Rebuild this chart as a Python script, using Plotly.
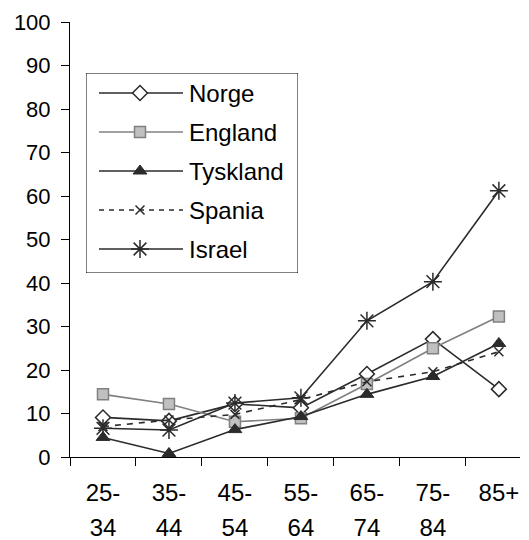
import plotly.graph_objects as go

# Age groups (two-line tick labels)
age_groups = ["25-34", "35-44", "45-54", "55-64", "65-74", "75-84", "85+"]
label_top = ["25-", "35-", "45-", "55-", "65-", "75-", "85+"]
label_bottom = ["34", "44", "54", "64", "74", "84", ""]

# Values per country
countries = ["Norge", "England", "Tyskland", "Spania", "Israel"]
norge = [9.1, 8.3, 12.2, 11.3, 19.1, 27.1, 15.6]
england = [14.4, 12.2, 8.1, 8.9, 16.8, 25.0, 32.3]
tyskland = [4.5, 0.8, 6.3, 9.3, 14.4, 18.5, 26.1]
spania = [7.0, 8.5, 9.8, 13.2, 17.3, 19.6, 24.2]
israel = [6.6, 6.2, 12.4, 13.6, 31.3, 40.3, 61.2]
series = [norge, england, tyskland, spania, israel]

y_ticks = [0, 10, 20, 30, 40, 50, 60, 70, 80, 90, 100]

FONT = "Liberation Sans, Arial, sans-serif"
DARK = "#2b2b2b"
GRAY = "#808080"

styles = [
    dict(line=dict(color=DARK, width=1.6),
         marker=dict(symbol="diamond", size=11.5, color="white",
                     line=dict(color=DARK, width=1.5))),
    dict(line=dict(color=GRAY, width=1.6),
         marker=dict(symbol="square", size=11, color="#c0c0c0",
                     line=dict(color=GRAY, width=1.5))),
    dict(line=dict(color=DARK, width=1.6),
         marker=dict(symbol="triangle-up", size=12, color=DARK,
                     line=dict(color=DARK, width=1))),
    dict(line=dict(color=DARK, width=1.6, dash="6px,6px"),
         marker=dict(symbol="x-thin-open", size=9, color=DARK,
                     line=dict(color=DARK, width=1.5))),
    dict(line=dict(color=DARK, width=1.6),
         marker=dict(symbol="asterisk-open", size=15, color=DARK,
                     line=dict(color=DARK, width=1.5))),
]

fig = go.Figure()

for name, values, st in zip(countries, series, styles):
    fig.add_trace(go.Scatter(
        x=age_groups, y=values, name=name, mode="lines+markers",
        line=st["line"], marker=st["marker"], showlegend=False,
    ))

# Empty trace carrying the second line of the category labels
fig.add_trace(go.Scatter(
    x=age_groups, y=[None] * len(age_groups), xaxis="x2",
    showlegend=False, hoverinfo="skip", mode="markers",
))

# Legend panel drawn on its own small pixel-scaled axes
LEG_W, LEG_H = 212, 200
row_y = [20, 59, 98, 137, 176]
annotations = []
for name, st, ry in zip(countries, styles, row_y):
    dash_style = dict(st["line"])
    if dash_style.get("dash"):
        dash_style["dash"] = "5px,5px"
    fig.add_trace(go.Scatter(
        x=[13, 97], y=[ry, ry], mode="lines", line=dash_style,
        xaxis="x3", yaxis="y3", showlegend=False, hoverinfo="skip",
    ))
    fig.add_trace(go.Scatter(
        x=[54], y=[ry], mode="markers", marker=st["marker"],
        xaxis="x3", yaxis="y3", showlegend=False, hoverinfo="skip",
    ))
    annotations.append(dict(
        x=101, y=ry, xref="x3", yref="y3", text=name, showarrow=False,
        xanchor="left", yanchor="middle",
        font=dict(family=FONT, size=24, color="black"),
    ))

x_range = [-0.5, 6.32]
plot_w, plot_h = 450, 435
leg_left, leg_top = 16, 51

fig.update_layout(
    width=529, height=540,
    margin=dict(l=70, r=9, t=22, b=83),
    paper_bgcolor="white", plot_bgcolor="rgba(0,0,0,0)",
    font=dict(family=FONT, size=22, color="black"),
    showlegend=False,
    annotations=annotations,
    shapes=[dict(
        type="rect", xref="x3", yref="y3", x0=0, x1=LEG_W, y0=0, y1=LEG_H,
        line=dict(color="black", width=1), fillcolor="rgba(0,0,0,0)",
        layer="above",
    )],
    xaxis=dict(
        type="category", range=x_range,
        tickmode="array", tickvals=age_groups, ticktext=label_top,
        tickson="boundaries", ticks="outside", ticklen=8,
        tickcolor="black", tickwidth=1,
        showline=True, linecolor="black", linewidth=1,
        showgrid=False, zeroline=False, automargin=False,
        tickfont=dict(size=24),
        ticklabelstandoff=14,
    ),
    xaxis2=dict(
        type="category", range=x_range, overlaying="x", anchor="y",
        side="bottom",
        tickmode="array", tickvals=age_groups, ticktext=label_bottom,
        ticks="", showline=False, showgrid=False, zeroline=False,
        automargin=False,
        tickfont=dict(size=24),
        ticklabelstandoff=54,
    ),
    yaxis=dict(
        range=[0, 100], tickmode="array", tickvals=y_ticks,
        ticks="outside", ticklen=8, tickcolor="black", tickwidth=1,
        showline=True, linecolor="black", linewidth=1,
        showgrid=False, zeroline=False, automargin=False,
        ticklabelstandoff=6,
    ),
    xaxis3=dict(
        domain=[leg_left / plot_w, (leg_left + LEG_W) / plot_w],
        range=[0, LEG_W], anchor="y3", visible=False, fixedrange=True,
    ),
    yaxis3=dict(
        domain=[(plot_h - leg_top - LEG_H) / plot_h, (plot_h - leg_top) / plot_h],
        range=[LEG_H, 0], anchor="x3", visible=False, fixedrange=True,
    ),
)

fig.write_html("out.html")
